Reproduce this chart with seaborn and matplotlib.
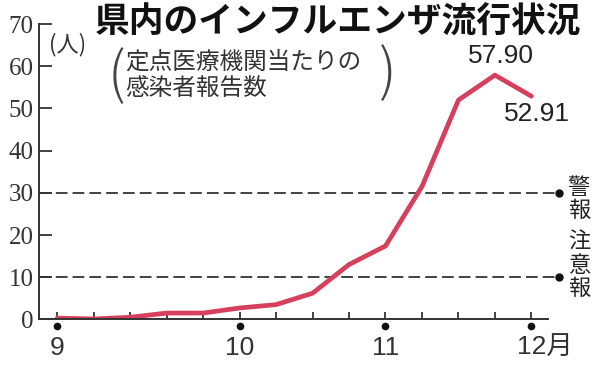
import matplotlib
matplotlib.use('Agg')
import matplotlib.pyplot as plt
import matplotlib.transforms as mtransforms
import seaborn as sns
import pandas as pd

# 週ごとの定点当たり報告数 (9月第1週〜12月第1週)
week_idx = [0, 1, 2, 3, 4, 5, 6, 7, 8, 9, 10, 11, 12, 13]
values = [0.3, 0.1, 0.5, 1.5, 1.5, 2.7, 3.5, 6.2, 13.0, 17.4, 31.5, 52.0, 57.90, 52.91]

month_pos = [0, 5, 9, 13]
month_labels = ['9', '10', '11', '12月']

y_ticks = [0, 10, 20, 30, 40, 50, 60, 70]
levels = [30, 10]
level_labels = ['警\n報', '注\n意\n報']

df = pd.DataFrame({'week': week_idx, 'value': values})

sns.set_theme(style='white')
plt.rcParams['font.family'] = ['Noto Sans CJK JP', 'DejaVu Sans']

fig = plt.figure(figsize=(6, 3.65), dpi=100)
ax = fig.add_axes([0.065, 0.125, 0.848, 0.809])

line_col = '#d6405c'
grey = '#333333'

sns.lineplot(data=df, x='week', y='value', ax=ax, color=line_col, linewidth=3.4)

ax.set_xlim(-0.5, 13.45)
ax.set_ylim(0, 70)

# 警報・注意報レベル
for lv in levels:
    ax.axhline(lv, xmin=0, xmax=1.015, color=grey, linestyle=(0, (6.5, 2.8)),
               linewidth=1.3, clip_on=False, zorder=1)
    ax.plot([1.022], [lv], 'o', color='#111111', markersize=5,
            transform=ax.get_yaxis_transform(), clip_on=False)
ax.text(1.061, levels[0] - 1.5, level_labels[0], transform=ax.get_yaxis_transform(),
        ha='center', va='center', fontsize=16, linespacing=1.0, color='#222222')
ax.text(1.061, levels[1] + 2.8, level_labels[1], transform=ax.get_yaxis_transform(),
        ha='center', va='center', fontsize=16, linespacing=1.0, color='#222222')

# 月の位置の黒丸
ax.plot(month_pos, [-0.023] * len(month_pos), 'o', color='#111111', markersize=4.5,
        transform=ax.get_xaxis_transform(), clip_on=False)

# 目盛り
xt_labels = [month_labels[month_pos.index(w)] if w in month_pos else '' for w in week_idx]
ax.set_xticks(week_idx, xt_labels)
ax.set_yticks(y_ticks)
ax.tick_params(axis='x', direction='in', length=5, width=1.3, color=grey, pad=12,
               labelsize=19, labelcolor='#333333', bottom=True)
ax.tick_params(axis='y', direction='in', length=9, width=1.3, color=grey, pad=4,
               labelsize=18, labelcolor='#333333', left=True)
for t in ax.get_xticklabels():
    t.set_family(['Liberation Sans', 'Noto Sans CJK JP'])
    if t.get_text().endswith('月'):
        # 「月」は数字の右にはみ出す
        t.set_transform(t.get_transform() +
                        mtransforms.ScaledTranslation(10 / 72, 0, fig.dpi_scale_trans))
for t in ax.get_yticklabels():
    t.set_family('Liberation Serif')

ax.set_xlabel('')
ax.set_ylabel('')
sns.despine(ax=ax)
for s in ['left', 'bottom']:
    ax.spines[s].set_color(grey)
    ax.spines[s].set_linewidth(1.4)

# 最新値の注記
ax.annotate(f'{values[-2]:.2f}', (week_idx[-2], values[-2]), xytext=(4, 14),
            textcoords='offset points', ha='center', va='center', fontsize=19,
            family='Liberation Sans', color='#222222')
ax.annotate(f'{values[-1]:.2f}', (week_idx[-1], values[-1]), xytext=(4, -13),
            textcoords='offset points', ha='center', va='center', fontsize=19,
            family='Liberation Sans', color='#222222')

# タイトル類
fig.text(95 / 600, 1 - 22 / 365, '県内のインフルエンザ流行状況', fontsize=25,
         fontweight='bold', ha='left', va='center', color='#111111')
fig.text(68 / 600, 1 - 45 / 365, '(人)', fontsize=16, ha='center', va='center',
         color='#333333')
fig.text(125 / 600, 1 - 62 / 365, '定点医療機関当たりの', fontsize=17,
         ha='left', va='center', color='#333333')
fig.text(125 / 600, 1 - 89 / 365, '感染者報告数', fontsize=17,
         ha='left', va='center', color='#333333')
fig.text(116 / 600, 1 - 77 / 365, '(', fontsize=40, fontweight='light',
         ha='center', va='center', color='#444444')
fig.text(388 / 600, 1 - 74 / 365, ')', fontsize=40, fontweight='light',
         ha='center', va='center', color='#444444')

fig.savefig('out.png', dpi=100)
